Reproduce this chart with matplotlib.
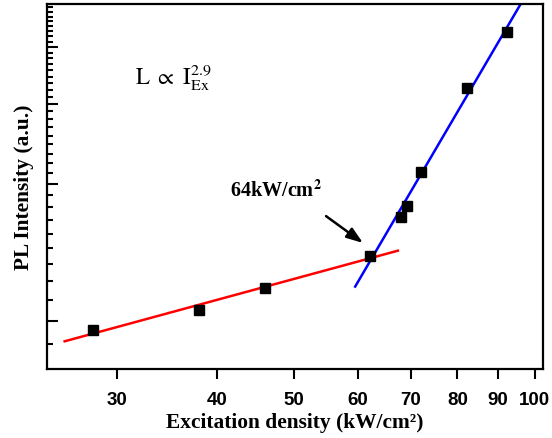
import numpy as np
import matplotlib.pyplot as plt
from matplotlib.ticker import FixedLocator, NullLocator, NullFormatter

plt.rcParams['mathtext.fontset'] = 'stix'

# Données
excitation = [28.0, 38.0, 46.0, 62.2, 68.0, 69.1, 72.0, 82.2, 92.2]
intensity = [0.957, 1.059, 1.179, 1.392, 1.695, 1.792, 2.129, 3.246, 4.311]

# Droites d'ajustement (extrémités)
red_x = [25.8, 67.4]
red_y = [0.902, 1.427]
blue_x = [59.6, 97.0]
blue_y = [1.19, 5.13]

x_ticks = [30, 40, 50, 60, 70, 80, 90, 100]
x_labels = ['30', '40', '50', '60', '70', '80', '90', '100']
y_major = [1, 2, 3, 4]

fig = plt.figure(figsize=(5.52, 4.39), dpi=100)
ax = fig.add_axes([0.0851, 0.1572, 0.8986, 0.8314])

ax.plot(red_x, red_y, color='#ff0000', lw=1.8, zorder=2)
ax.plot(blue_x, blue_y, color='#0000ff', lw=1.8, zorder=2)
ax.plot(excitation, intensity, 's', color='black', ms=7.5, zorder=3)

ax.set_xscale('log')
ax.set_yscale('log')
ax.set_xlim(24.52, 102.4)
ax.set_ylim(0.784, 4.975)

ax.xaxis.set_major_locator(FixedLocator(x_ticks))
ax.set_xticklabels(x_labels)
ax.xaxis.set_minor_locator(NullLocator())
ax.yaxis.set_major_locator(FixedLocator(y_major))
ax.yaxis.set_major_formatter(NullFormatter())
ax.yaxis.set_minor_locator(FixedLocator(np.arange(8, 45) / 9.0))
ax.yaxis.set_minor_formatter(NullFormatter())

ax.tick_params(axis='x', which='major', direction='out', length=7, width=1.5,
               pad=9, labelsize=13.5)
ax.tick_params(axis='y', which='major', direction='in', length=8, width=1.5)
ax.tick_params(axis='y', which='minor', direction='in', length=4.5, width=1.5)
for lab in ax.get_xticklabels():
    lab.set_fontfamily('Liberation Sans')
    lab.set_fontweight('bold')

for sp in ax.spines.values():
    sp.set_linewidth(1.6)

ax.set_xlabel('Excitation density (kW/cm²)', fontfamily='Liberation Serif',
              fontweight='bold', fontsize=15.4, labelpad=3)
ax.set_ylabel('PL Intensity (a.u.)', fontfamily='Liberation Serif',
              fontweight='bold', fontsize=15.4, labelpad=6)

ax.text(0.177, 0.781, r'$\mathrm{L}\ \propto\ \mathrm{I}_{\mathrm{Ex}}^{2.9}$',
        transform=ax.transAxes, fontsize=16.5, va='baseline', ha='left')
ax.text(0.369, 0.474, r'64kW/cm$^{\mathbf{2}}$', transform=ax.transAxes,
        fontfamily='Liberation Serif', fontweight='bold', fontsize=14.5,
        va='baseline', ha='left')
ax.annotate('', xy=(60.95, 1.484), xytext=(54.8, 1.70),
            arrowprops=dict(arrowstyle='-|>,head_length=0.7,head_width=0.25',
                            color='black', lw=1.8,
                            mutation_scale=14, shrinkA=0, shrinkB=0))

plt.savefig('out.png', dpi=100)
